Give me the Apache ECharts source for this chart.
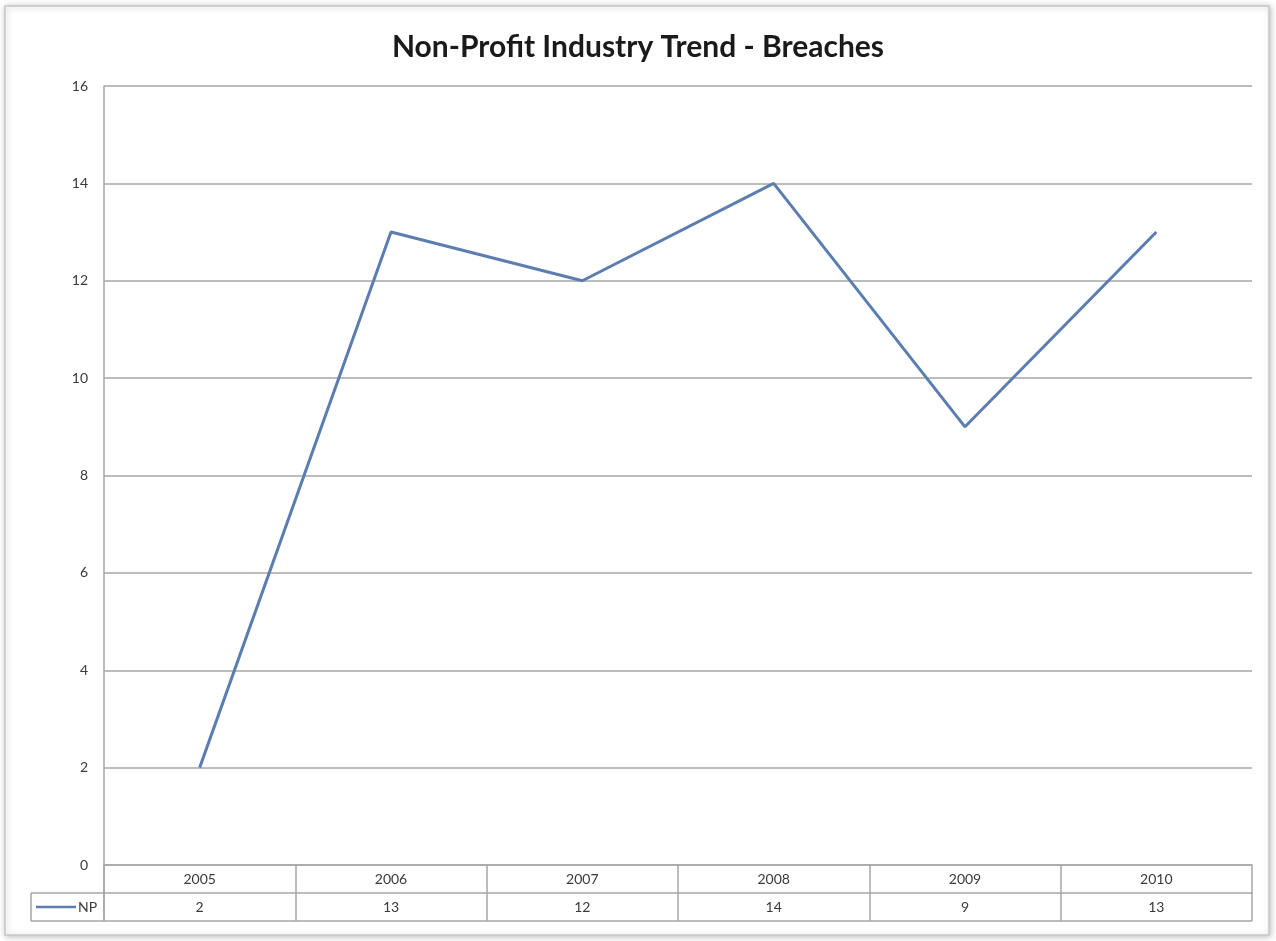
<!DOCTYPE html>
<html>
<head>
<meta charset="utf-8">
<script src="https://cdn.jsdelivr.net/npm/echarts@6/dist/echarts.min.js"></script>
<style>html,body{margin:0;padding:0;background:#fff;}#c{width:1276px;height:941px;}</style>
</head>
<body>
<div id="c"></div>
<script>
const categories = ['2005', '2006', '2007', '2008', '2009', '2010'];
const npValues = [2, 13, 12, 14, 9, 13];
const seriesName = 'NP';
const yTicks = {min: 0, max: 16, interval: 2};

const FONT = 'Lato, "Open Sans", sans-serif';
const gridColor = '#a6a6a6';
const lineColor = '#5b7db0';
const textColor = '#3a3a3a';
const G = {left: 104, right: 1252, top: 86, bottom: 865, row: 28, tableLeft: 31};

const chart = echarts.init(document.getElementById('c'));
chart.setOption({
  backgroundColor: '#fff',
  animation: false,
  title: {
    text: 'Non-Profit Industry Trend - Breaches',
    left: 'center', top: 27,
    textStyle: {fontFamily: FONT, fontSize: 30, fontWeight: 'bold', color: '#1a1a1a'}
  },
  grid: {left: G.left, right: 1276 - G.right, top: G.top, bottom: 941 - G.bottom, containLabel: false},
  xAxis: [{
    type: 'category', data: categories, boundaryGap: true, position: 'bottom',
    axisLine: {show: true, lineStyle: {color: gridColor, width: 1.5}},
    axisTick: {show: true, interval: 0, alignWithLabel: false, length: G.row * 2, lineStyle: {color: gridColor, width: 1.5}},
    axisLabel: {margin: 7, fontFamily: FONT, fontSize: 14, color: textColor, interval: 0},
    splitLine: {show: false}
  }, {
    type: 'category', data: npValues.map(String), boundaryGap: true, position: 'bottom', offset: G.row,
    axisLine: {show: true, lineStyle: {color: gridColor, width: 1.5}},
    axisTick: {show: false},
    axisLabel: {margin: 7, fontFamily: FONT, fontSize: 14, color: textColor, interval: 0},
    splitLine: {show: false}
  }],
  yAxis: {
    type: 'value', min: yTicks.min, max: yTicks.max, interval: yTicks.interval,
    axisLine: {show: true, lineStyle: {color: gridColor, width: 1.5}},
    axisTick: {show: false},
    axisLabel: {margin: 16, fontFamily: FONT, fontSize: 14, color: textColor},
    splitLine: {show: true, lineStyle: {color: gridColor, width: 1.5}}
  },
  series: [{
    name: seriesName, type: 'line', data: npValues, xAxisIndex: 0,
    symbol: 'none', smooth: false,
    lineStyle: {color: lineColor, width: 3}
  }],
  graphic: [
    {type: 'rect', shape: {x: 5, y: 6, width: 1264, height: 929}, silent: true, z: -10,
      style: {fill: '#fff', stroke: '#c8c8c8', lineWidth: 1.5, shadowBlur: 6, shadowColor: 'rgba(0,0,0,0.25)', shadowOffsetX: 1, shadowOffsetY: 1}},
    {type: 'line', shape: {x1: G.tableLeft, y1: G.bottom + G.row, x2: G.left, y2: G.bottom + G.row}, style: {stroke: gridColor, lineWidth: 1.5}, z: 10},
    {type: 'line', shape: {x1: G.tableLeft, y1: G.bottom + 2 * G.row, x2: G.right, y2: G.bottom + 2 * G.row}, style: {stroke: gridColor, lineWidth: 1.5}, z: 10},
    {type: 'line', shape: {x1: G.tableLeft, y1: G.bottom + G.row, x2: G.tableLeft, y2: G.bottom + 2 * G.row}, style: {stroke: gridColor, lineWidth: 1.5}, z: 10},
    {type: 'line', shape: {x1: G.left, y1: G.bottom, x2: G.left, y2: G.bottom + 2 * G.row}, style: {stroke: gridColor, lineWidth: 1.5}, z: 10},
    {type: 'line', shape: {x1: 36, y1: G.bottom + 1.5 * G.row, x2: 76, y2: G.bottom + 1.5 * G.row}, style: {stroke: lineColor, lineWidth: 2.5}, z: 10},
    {type: 'text', x: 78, y: G.bottom + 1.5 * G.row, z: 10,
      style: {text: seriesName, fontFamily: FONT, fontSize: 14, fill: textColor, verticalAlign: 'middle'}}
  ]
});
</script>
</body>
</html>
